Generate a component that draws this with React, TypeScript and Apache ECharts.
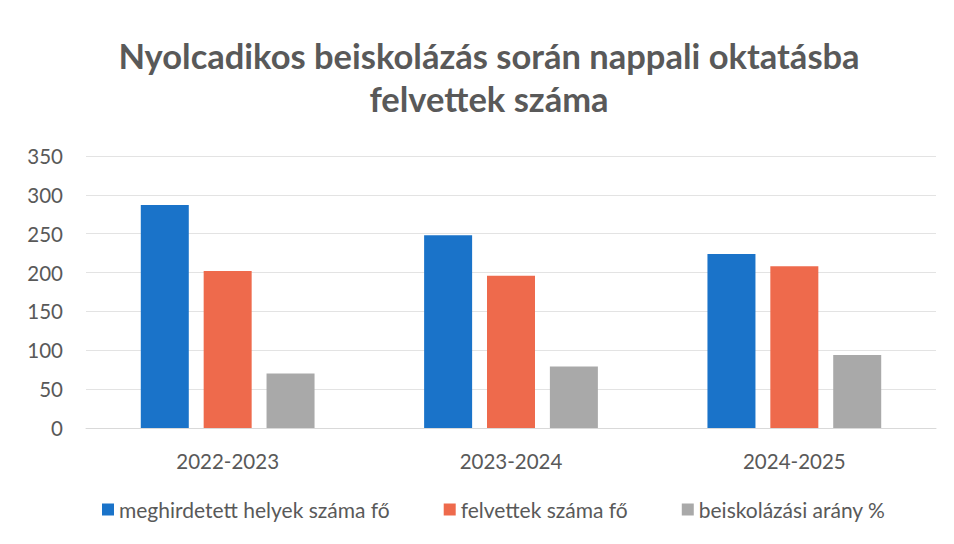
import React, { useEffect, useRef } from "react";
import * as echarts from "echarts";

const titleText = "Nyolcadikos beiskolázás során nappali oktatásba\nfelvettek száma";
const categories = ["2022-2023", "2023-2024", "2024-2025"];
const seriesNames = ["meghirdetett helyek száma fő", "felvettek száma fő", "beiskolázási arány %"];
const meghirdetett = [287, 248, 224];
const felvettek = [202, 196, 208];
const arany = [70, 79, 94];
const colors = ["#1a73c9", "#ee6a4c", "#a9a9a9"];

export default function App() {
  const ref = useRef<HTMLDivElement>(null);
  useEffect(() => {
    const chart = echarts.init(ref.current!, null, { renderer: "svg" });
    const font = "Lato, 'Open Sans', sans-serif";
    const data = [meghirdetett, felvettek, arany];
    chart.setOption({
      animation: false,
      backgroundColor: "#ffffff",
      title: {
        text: titleText,
        left: 484,
        textAlign: "center",
        top: 29,
        textStyle: { fontFamily: font, fontSize: 34.5, fontWeight: "bold", color: "#595959", lineHeight: 43 },
      },
      grid: { left: 86, right: 18, top: 156, bottom: 116 },
      legend: {
        bottom: 19,
        left: 97,
        itemWidth: 12,
        itemHeight: 12,
        itemGap: 54,
        icon: "rect",
        textStyle: { fontFamily: font, fontSize: 21, color: "#595959" },
        data: seriesNames,
      },
      xAxis: {
        type: "category",
        data: categories,
        axisLine: { lineStyle: { color: "#d9d9d9" } },
        axisTick: { show: false },
        axisLabel: { fontFamily: font, fontSize: 20.5, color: "#595959", margin: 22 },
      },
      yAxis: {
        type: "value",
        min: 0,
        max: 350,
        interval: 50,
        axisLine: { show: false },
        axisTick: { show: false },
        splitLine: { lineStyle: { color: "#e3e3e3" } },
        axisLabel: { fontFamily: font, fontSize: 20.5, color: "#595959", margin: 23 },
      },
      series: seriesNames.map((name, i) => ({
        name,
        type: "bar",
        data: data[i],
        barWidth: 48,
        barGap: "31%",
        itemStyle: { color: colors[i] },
      })),
    });
    return () => chart.dispose();
  }, []);
  return (
    <div
      ref={ref}
      style={{ position: "fixed", left: 0, top: 0, width: 954, height: 544 }}
    />
  );
}
